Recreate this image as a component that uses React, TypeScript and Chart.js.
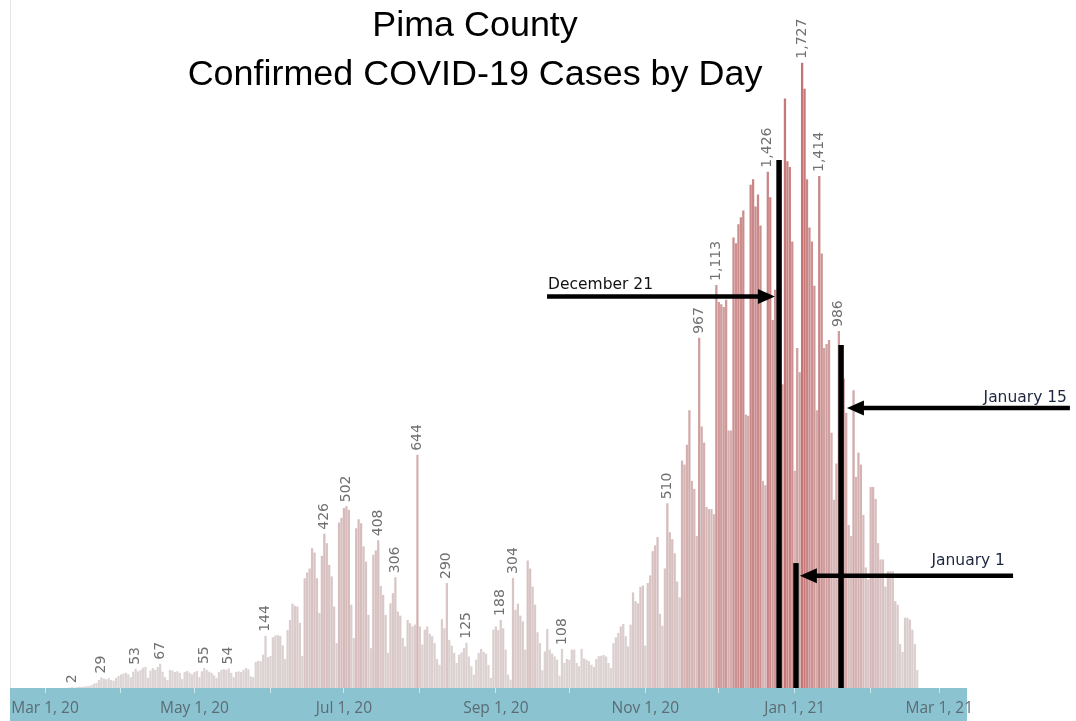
import { useEffect, useRef } from "react";
import { Chart, registerables } from "chart.js";

Chart.register(...registerables);

// ---------------- DATA (daily confirmed cases) ----------------
const CASES_MAR_2020 = [1, 2, 1, 2, 3, 3, 4, 5, 5, 8, 12, 14, 22, 29, 26, 24, 27, 22, 20, 28, 33]; // from Mar 11
const CASES_APR_2020 = [37, 40, 42, 38, 30, 45, 53, 46, 50, 56, 58, 28, 48, 55, 50, 58, 67, 45, 30, 22, 50, 48, 44, 46, 42, 25, 44, 47, 42, 38];
const CASES_MAY_2020 = [44, 47, 30, 46, 55, 50, 45, 42, 35, 28, 44, 50, 52, 50, 54, 42, 30, 44, 46, 44, 50, 55, 52, 32, 30, 72, 75, 74, 92, 144, 85];
const CASES_JUN_2020 = [88, 140, 145, 146, 144, 118, 80, 160, 188, 233, 227, 225, 180, 88, 303, 319, 330, 386, 374, 303, 207, 365, 426, 400, 340, 308, 225, 124, 457, 470];
const CASES_JUL_2020 = [497, 502, 492, 230, 138, 441, 466, 455, 391, 349, 202, 110, 368, 380, 408, 282, 257, 202, 97, 234, 262, 306, 211, 200, 138, 115, 188, 179, 170, 175, 644];
const CASES_AUG_2020 = [170, 120, 161, 170, 150, 143, 124, 80, 64, 190, 165, 290, 133, 117, 97, 69, 92, 98, 110, 125, 87, 60, 37, 78, 97, 108, 100, 95, 64, 28, 161];
const CASES_SEP_2020 = [170, 160, 188, 165, 106, 37, 23, 304, 216, 233, 200, 184, 106, 352, 330, 280, 230, 154, 124, 49, 101, 163, 106, 95, 87, 78, 34, 108, 69, 80];
const CASES_OCT_2020 = [78, 106, 106, 69, 60, 108, 82, 78, 74, 64, 58, 80, 88, 89, 91, 87, 69, 55, 124, 140, 152, 170, 177, 143, 115, 175, 264, 240, 234, 279, 283];
const CASES_NOV_2020 = [117, 290, 311, 378, 394, 417, 205, 172, 330, 510, 430, 411, 372, 294, 250, 628, 617, 672, 767, 572, 550, 420, 967, 722, 678, 500, 494, 494, 480, 1113];
const CASES_DEC_2020 = [1066, 1060, 1052, 1072, 711, 711, 1244, 1228, 1281, 1300, 1319, 755, 752, 1390, 1405, 1330, 1363, 1277, 572, 560, 1426, 1355, 1016, 1100, 400, 700, 839, 1628, 1455, 1439, 1233];
const CASES_JAN_2021 = [600, 939, 872, 1727, 1655, 1405, 1272, 1233, 1111, 767, 1414, 1200, 939, 950, 961, 705, 520, 620, 986, 883, 855, 760, 450, 420, 822, 583, 650, 617, 478, 333, 300];
const CASES_FEB_2021 = [555, 555, 522, 400, 355, 355, 280, 322, 322, 322, 240, 230, 122, 100, 194, 194, 189, 161, 122, 50];

const MONTHS = [
  { year: 2020, month: 3, firstDay: 11, values: CASES_MAR_2020 },
  { year: 2020, month: 4, firstDay: 1, values: CASES_APR_2020 },
  { year: 2020, month: 5, firstDay: 1, values: CASES_MAY_2020 },
  { year: 2020, month: 6, firstDay: 1, values: CASES_JUN_2020 },
  { year: 2020, month: 7, firstDay: 1, values: CASES_JUL_2020 },
  { year: 2020, month: 8, firstDay: 1, values: CASES_AUG_2020 },
  { year: 2020, month: 9, firstDay: 1, values: CASES_SEP_2020 },
  { year: 2020, month: 10, firstDay: 1, values: CASES_OCT_2020 },
  { year: 2020, month: 11, firstDay: 1, values: CASES_NOV_2020 },
  { year: 2020, month: 12, firstDay: 1, values: CASES_DEC_2020 },
  { year: 2021, month: 1, firstDay: 1, values: CASES_JAN_2021 },
  { year: 2021, month: 2, firstDay: 1, values: CASES_FEB_2021 },
];

const TICK_DATES = [
  "2020-03-01", "2020-04-01", "2020-05-01", "2020-06-01", "2020-07-01", "2020-08-01", "2020-09-01",
  "2020-10-01", "2020-11-01", "2020-12-01", "2021-01-01", "2021-02-01", "2021-03-01",
];
const TICK_LABELS = ["Mar 1, 20", "", "May 1, 20", "", "Jul 1, 20", "", "Sep 1, 20", "", "Nov 1, 20", "", "Jan 1, 21", "", "Mar 1, 21"];

const LABELLED_DATES = [
  "2020-03-12", "2020-03-24", "2020-04-07", "2020-04-17", "2020-05-05", "2020-05-15", "2020-05-30",
  "2020-06-23", "2020-07-02", "2020-07-15", "2020-07-22", "2020-07-31", "2020-08-12", "2020-08-20",
  "2020-09-03", "2020-09-08", "2020-09-28", "2020-11-10", "2020-11-23", "2020-11-30", "2020-12-21",
  "2021-01-04", "2021-01-11", "2021-01-19",
];

const TITLE_LINES = ["Pima County", "Confirmed COVID-19 Cases by Day"];

// annotations in data space (day offset from Mar 1 2020, case value)
const MARKER_LINES = [
  { day: 299.6, top: 1458 },
  { day: 306.5, top: 345 },
  { day: 324.9, top: 947 },
];
const ARROWS = [
  { tail: 204.9, tip: 297.9, value: 1081 },
  { tail: 418.3, tip: 327.3, value: 773 },
  { tail: 395.1, tip: 308.1, value: 310 },
];
const NOTES = [
  { text: "December 21", day: 205.3, value: 1102, align: "left", color: "#111111" },
  { text: "January 15", day: 417.1, value: 791, align: "right", color: "#1e2640" },
  { text: "January 1", day: 391.8, value: 340, align: "right", color: "#1e2640" },
];

const X_MIN = -14.29;
const X_MAX = 376.3;
const Y_MAX = 1900;

// ---------------- helpers ----------------
const BASE = Date.UTC(2020, 2, 1);
function dayOf(y: number, m: number, d: number) {
  return Math.round((Date.UTC(y, m - 1, d) - BASE) / 86400000);
}
function dayOfStr(s: string) {
  const [y, m, d] = s.split("-").map(Number);
  return dayOf(y, m, d);
}

const POINTS: { x: number; y: number }[] = [];
MONTHS.forEach((mo) => {
  mo.values.forEach((v, i) => {
    POINTS.push({ x: dayOf(mo.year, mo.month, mo.firstDay + i), y: v });
  });
});
const TICK_DAYS = TICK_DATES.map(dayOfStr);

function barColor(v: number) {
  const t = Math.min(1, v / 1727);
  const r = Math.round(221 - 23 * t);
  const g = Math.round(215 - 100 * t);
  return `rgb(${r},${g},${g})`;
}
function fmt(n: number) {
  return String(n).replace(/\B(?=(\d{3})+(?!\d))/g, ",");
}

const bandPlugin = {
  id: "band",
  beforeDraw(chart: any) {
    const { ctx, chartArea } = chart;
    ctx.save();
    ctx.fillStyle = "#8cc3d1";
    ctx.fillRect(chartArea.left, chartArea.bottom, chartArea.right - chartArea.left, chart.height - chartArea.bottom);
    ctx.strokeStyle = "#e4e4e4";
    ctx.lineWidth = 1;
    ctx.beginPath();
    ctx.moveTo(chartArea.left + 0.5, 0);
    ctx.lineTo(chartArea.left + 0.5, chartArea.bottom);
    ctx.stroke();
    ctx.restore();
  },
};

const overlayPlugin = {
  id: "overlay",
  afterDraw(chart: any) {
    const { ctx } = chart;
    const xs = chart.scales.x;
    const ys = chart.scales.y;
    const meta = chart.getDatasetMeta(0);

    // value labels
    ctx.save();
    ctx.font = '14px "DejaVu Sans"';
    ctx.fillStyle = "#707070";
    ctx.textAlign = "left";
    ctx.textBaseline = "middle";
    LABELLED_DATES.forEach((ds) => {
      const d = dayOfStr(ds);
      const i = POINTS.findIndex((p) => p.x === d);
      if (i < 0) return;
      const el = meta.data[i];
      ctx.save();
      ctx.translate(el.x, el.y - 4);
      ctx.rotate(-Math.PI / 2);
      ctx.fillText(fmt(POINTS[i].y), 0, 0);
      ctx.restore();
    });
    ctx.restore();

    // marker lines
    ctx.save();
    ctx.strokeStyle = "#000";
    ctx.lineWidth = 5.5;
    MARKER_LINES.forEach((m) => {
      const x = xs.getPixelForValue(m.day);
      ctx.beginPath();
      ctx.moveTo(x, ys.getPixelForValue(m.top));
      ctx.lineTo(x, ys.getPixelForValue(0));
      ctx.stroke();
    });
    ctx.restore();

    // arrows
    ctx.save();
    ctx.fillStyle = "#000";
    ctx.strokeStyle = "#000";
    ctx.lineWidth = 4.5;
    ARROWS.forEach((a) => {
      const x1 = xs.getPixelForValue(a.tail);
      const x2 = xs.getPixelForValue(a.tip);
      const y = ys.getPixelForValue(a.value);
      const dir = x2 > x1 ? 1 : -1;
      const head = 17;
      const half = 7.5;
      ctx.beginPath();
      ctx.moveTo(x1, y);
      ctx.lineTo(x2 - dir * (head - 2), y);
      ctx.stroke();
      ctx.beginPath();
      ctx.moveTo(x2, y);
      ctx.lineTo(x2 - dir * head, y - half);
      ctx.lineTo(x2 - dir * head, y + half);
      ctx.closePath();
      ctx.fill();
    });
    ctx.restore();

    // notes
    ctx.save();
    ctx.font = '15.5px "DejaVu Sans"';
    ctx.textBaseline = "alphabetic";
    NOTES.forEach((n) => {
      ctx.fillStyle = n.color;
      ctx.textAlign = n.align as CanvasTextAlign;
      ctx.fillText(n.text, xs.getPixelForValue(n.day), ys.getPixelForValue(n.value));
    });
    ctx.restore();

    // title
    ctx.save();
    const fam = '"Liberation Sans"';
    ctx.font = `100px ${fam}`;
    const w = ctx.measureText(TITLE_LINES[1]).width;
    const size = (100 * 575) / w;
    ctx.font = `${size}px ${fam}`;
    ctx.fillStyle = "#000";
    ctx.textAlign = "center";
    ctx.textBaseline = "alphabetic";
    ctx.fillText(TITLE_LINES[0], 475, 36);
    ctx.fillText(TITLE_LINES[1], 475, 85);
    ctx.restore();
  },
};

export default function App() {
  const ref = useRef<HTMLCanvasElement>(null);
  useEffect(() => {
    document.body.style.margin = "0";
    const chart = new Chart(ref.current as HTMLCanvasElement, {
      type: "bar",
      data: {
        datasets: [
          {
            data: POINTS as any,
            backgroundColor: POINTS.map((p) => barColor(p.y)),
            borderWidth: 0,
            categoryPercentage: 1,
            barPercentage: 0.93,
          },
        ],
      },
      options: {
        animation: false,
        responsive: false,
        layout: { padding: { left: 10, right: 109, top: 0, bottom: 0 } },
        plugins: { legend: { display: false }, tooltip: { enabled: false }, title: { display: false } },
        scales: {
          x: {
            type: "linear",
            min: X_MIN,
            max: X_MAX,
            offset: false,
            border: { display: false },
            grid: {
              display: true,
              offset: false,
              drawOnChartArea: false,
              drawTicks: true,
              tickLength: 5,
              color: "rgba(255,255,255,0.6)",
            },
            ticks: {
              autoSkip: false,
              maxRotation: 0,
              minRotation: 0,
              padding: 6,
              color: "#5b6c73",
              font: { family: '"Open Sans"', size: 15.5 },
              callback: (_v: any, i: number) => TICK_LABELS[i] ?? "",
            },
            afterBuildTicks: (s: any) => {
              s.ticks = TICK_DAYS.map((v) => ({ value: v }));
            },
            afterFit: (s: any) => {
              s.height = 33;
            },
          } as any,
          y: { display: false, min: 0, max: Y_MAX },
        },
      },
      plugins: [bandPlugin, overlayPlugin],
    });
    return () => chart.destroy();
  }, []);
  return <canvas ref={ref} width={1076} height={721} style={{ display: "block" }} />;
}
